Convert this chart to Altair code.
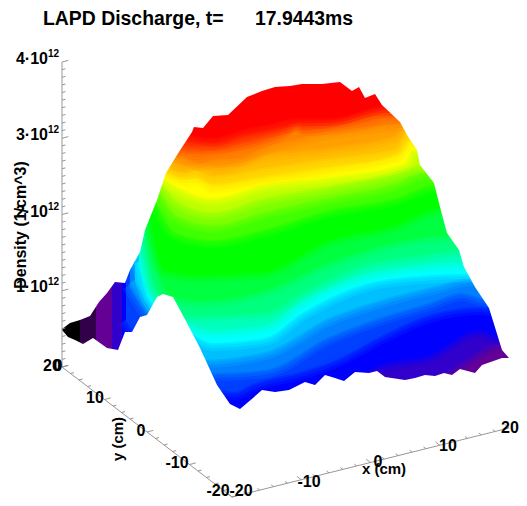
import altair as alt
import pandas as pd

# ---- silhouette of the surface (screen x, y)
top_x = [8, 61, 62, 70, 80, 90, 99, 107, 115, 125, 130, 140, 145, 157, 166, 177, 192, 194, 203, 213, 228, 247, 262, 275, 290, 302, 322, 340, 352, 359, 365, 375, 382, 400, 407, 417, 420, 434, 440, 447, 459, 464, 475, 489, 502, 509, 510, 519]
top_y = [520, 520, 329, 323, 320, 316, 302, 293, 282, 283, 270, 252, 230, 200, 173, 155, 132, 127, 128, 116, 115, 97, 91, 87, 86, 84, 84, 82, 91, 87, 98, 94, 105, 122, 135, 150, 165, 183, 207, 233, 250, 267, 287, 308, 350, 358, 520, 520]
bot_x = [62, 68, 75, 83, 93, 107, 118, 125, 132, 140, 147, 157, 163, 173, 187, 200, 217, 230, 240, 253, 262, 275, 289, 305, 315, 325, 335, 344, 355, 369, 377, 385, 405, 415, 425, 435, 444, 452, 460, 475, 482, 502, 509, 511]
bot_y = [330, 337, 340, 344, 338, 348, 350, 332, 332, 317, 315, 297, 294, 297, 323, 348, 385, 404, 409, 398, 390, 392, 390, 382, 385, 375, 378, 381, 372, 373, 371, 377, 380, 378, 375, 376, 373, 375, 369, 373, 365, 358, 358, 358]

# ---- iso-density curves on the surface (density in 1e12 /cm^3), screen x, y
d_black = 0.3
x_black = [62, 510]; y_black = [520, 520]
d_dark = 0.55
x_dark = [80, 510]; y_dark = [520, 520]
d_purple = 0.8
x_purple = [96, 510]; y_purple = [520, 520]
d_violet = 0.9
x_violet = [112, 395, 420, 445, 462, 490, 510]; y_violet = [520, 520, 382, 372, 362, 345, 340]
d_blue = 1.0
x_blue = [122, 235, 250, 265, 300, 340, 379, 429, 479, 495, 510]; y_blue = [520, 520, 405, 397, 394, 385, 365, 355, 330, 335, 338]
d_b2 = 1.1
x_b2 = [126, 200, 217, 235, 250, 265, 300, 340, 379, 429, 479, 510]; y_b2 = [320, 400, 390, 392, 385, 380, 372, 358, 337, 315, 307, 312]
d_azure = 1.2
x_azure = [130, 145, 180, 213, 265, 329, 379, 429, 462, 482, 510]; y_azure = [285, 310, 345, 373, 370, 337, 318, 303, 293, 298, 300]
d_a2 = 1.3
x_a2 = [135, 150, 200, 265, 329, 395, 440, 470, 510]; y_a2 = [280, 305, 360, 352, 318, 296, 285, 278, 278]
d_cyan = 1.4
x_cyan = [139, 150, 187, 213, 265, 302, 362, 420, 470, 510]; y_cyan = [262, 300, 330, 343, 338, 313, 285, 276, 274, 274]
d_c2 = 1.5
x_c2 = [142, 155, 187, 213, 265, 302, 362, 420, 465, 510]; y_c2 = [250, 290, 322, 330, 325, 300, 275, 265, 262, 262]
d_c3 = 1.6
x_c3 = [145, 155, 187, 265, 302, 362, 420, 460, 510]; y_c3 = [240, 290, 315, 312, 292, 265, 255, 250, 250]
d_c4 = 1.7
x_c4 = [148, 170, 200, 265, 329, 395, 450, 510]; y_c4 = [225, 295, 300, 290, 262, 242, 235, 235]
d_green = 1.8
x_green = [150, 165, 200, 262, 329, 395, 440, 510]; y_green = [215, 270, 275, 272, 240, 225, 208, 208]
d_g1 = 1.9
x_g1 = [155, 177, 213, 262, 329, 395, 435, 510]; y_g1 = [200, 233, 240, 230, 210, 198, 185, 185]
d_g2 = 2.0
x_g2 = [158, 177, 213, 262, 329, 395, 425, 510]; y_g2 = [188, 215, 225, 212, 197, 183, 172, 172]
d_g3 = 2.1
x_g3 = [160, 177, 213, 262, 329, 395, 420, 510]; y_g3 = [180, 200, 212, 198, 186, 172, 165, 165]
d_yellow = 2.2
x_yellow = [160, 178, 213, 262, 329, 405, 412, 510]; y_yellow = [175, 187, 198, 185, 177, 163, 150, 148]
d_y1 = 2.3
x_y1 = [162, 185, 198, 213, 262, 329, 395, 410, 510]; y_y1 = [168, 178, 178, 185, 178, 168, 155, 140, 140]
d_y2 = 2.4
x_y2 = [165, 182, 195, 213, 262, 329, 395, 407, 510]; y_y2 = [165, 172, 170, 176, 168, 158, 148, 132, 132]
d_y3 = 2.5
x_y3 = [170, 185, 200, 218, 262, 329, 395, 402, 510]; y_y3 = [158, 165, 160, 166, 155, 147, 135, 125, 125]
d_orange = 2.6
x_orange = [172, 180, 200, 213, 240, 265, 300, 312, 362, 399, 510]; y_orange = [155, 155, 163, 160, 158, 147, 138, 135, 127, 123, 123]
d_o1 = 2.7
x_o1 = [175, 200, 213, 240, 262, 285, 298, 304, 362, 392, 510]; y_o1 = [150, 152, 150, 145, 140, 130, 120, 128, 122, 116, 116]
d_o2 = 2.8
x_o2 = [178, 213, 240, 265, 285, 298, 304, 340, 385, 510]; y_o2 = [145, 146, 142, 135, 128, 118, 126, 120, 110, 110]
d_o3 = 2.9
x_o3 = [182, 213, 240, 265, 285, 299, 329, 378, 510]; y_o3 = [140, 142, 135, 130, 126, 122, 120, 108, 108]
d_red = 3.0
x_red = [185, 213, 240, 265, 299, 329, 375, 382, 510]; y_red = [133, 138, 130, 125, 118, 118, 107, 105, 105]

curves = [
    (d_black, x_black, y_black), (d_dark, x_dark, y_dark), (d_purple, x_purple, y_purple),
    (d_violet, x_violet, y_violet), (d_blue, x_blue, y_blue), (d_b2, x_b2, y_b2),
    (d_azure, x_azure, y_azure), (d_a2, x_a2, y_a2), (d_cyan, x_cyan, y_cyan),
    (d_c2, x_c2, y_c2), (d_c3, x_c3, y_c3), (d_c4, x_c4, y_c4), (d_green, x_green, y_green),
    (d_g1, x_g1, y_g1), (d_g2, x_g2, y_g2), (d_g3, x_g3, y_g3), (d_yellow, x_yellow, y_yellow),
    (d_y1, x_y1, y_y1), (d_y2, x_y2, y_y2), (d_y3, x_y3, y_y3), (d_orange, x_orange, y_orange),
    (d_o1, x_o1, y_o1), (d_o2, x_o2, y_o2), (d_o3, x_o3, y_o3), (d_red, x_red, y_red),
]

# colour table
color_domain = [0.3, 0.8, 1.0, 1.4, 1.8, 2.2, 3.0]
color_range = ["#000000", "#640096", "#0000ff", "#00ffff", "#00ff00", "#ffff00", "#ff0000"]

# soft edge of each band: stroke width, opacity
soft_strokes = [(16, 0.22), (10, 0.3), (4, 0.45)]

# axes: end points in the picture and tick values
z_end = ((62, 367), (62, 62))
y_end = ((62, 367), (232, 497))
x_end = ((232, 497), (509, 428))
axis_gray = "#8c8c8c"

title_a = "LAPD Discharge, t="
title_b = "17.9443ms"
z_labels = ["4·10", "3·10", "2·10", "1·10"]
z_label_y = [59, 135, 212, 287]
y_labels = ["20", "10", "0", "-10", "-20"]
y_label_x = [52, 95, 141, 177, 218]
y_label_y = [366, 398, 431, 463, 491]
x_labels = ["-20", "-10", "0", "10", "20"]
x_label_x = [241, 309, 378, 448, 510]
x_label_y = [491, 482, 462, 446, 428]

X = alt.X("x:Q", scale=alt.Scale(domain=[8, 519]), axis=None)
Y = alt.Y("y:Q", scale=alt.Scale(domain=[498, 8]), axis=None)
color_scale = alt.Scale(domain=color_domain, range=color_range, interpolate="rgb")

layers = []
for dens, xs, ys in curves:
    df = pd.DataFrame({"x": xs, "y": ys, "y0": [0] * len(xs), "density": [dens] * len(xs)})
    col = alt.Color("density:Q", scale=color_scale, legend=None)
    layers.append(
        alt.Chart(df).mark_area(clip=True, orient="vertical", interpolate="monotone").encode(
            x=X, y=Y, y2="y0:Q", color=col
        )
    )
    for w, op in soft_strokes:
        layers.append(
            alt.Chart(df).mark_line(clip=True, strokeWidth=w, opacity=op, interpolate="monotone").encode(
                x=X, y=Y, color=col
            )
        )

mask_top = pd.DataFrame({"x": top_x, "y": top_y, "y0": [0] * len(top_x)})
mask_bot = pd.DataFrame({"x": bot_x, "y": bot_y, "y0": [520] * len(bot_x)})
for m in (mask_top, mask_bot):
    layers.append(alt.Chart(m).mark_area(clip=True, orient="vertical", color="white").encode(x=X, y=Y, y2="y0:Q"))


def along(end, frac):
    (x0, y0), (x1, y1) = end
    return x0 + (x1 - x0) * frac, y0 + (y1 - y0) * frac


def axis_rows(end, n_minor, major_every, dx, dy):
    rows = []
    (a, b), (c, d) = end
    rows.append({"x": a, "y": b, "x2": c, "y2": d})
    for i in range(n_minor + 1):
        px, py = along(end, i / n_minor)
        k = 1.8 if i % major_every == 0 else 1.0
        rows.append({"x": px, "y": py, "x2": px + dx * k, "y2": py + dy * k})
    return rows


rows = axis_rows(z_end, 40, 10, 3.5, -0.9) + axis_rows(y_end, 20, 5, 3.5, -0.9) + axis_rows(x_end, 20, 5, -2.4, -1.9)
layers.append(
    alt.Chart(pd.DataFrame(rows)).mark_rule(color=axis_gray, strokeWidth=0.9).encode(x=X, y=Y, x2="x2:Q", y2="y2:Q")
)

FONT = "Liberation Sans"


def texts(labels, xs, ys, size, align="center", angle=None, color="black"):
    df = pd.DataFrame({"x": xs, "y": ys, "t": labels})
    kw = dict(font=FONT, fontWeight="bold", fontSize=size, align=align, baseline="middle", color=color)
    if angle is not None:
        kw["angle"] = angle
    return alt.Chart(df).mark_text(**kw).encode(x=X, y=Y, text="t:N")


layers += [
    texts([title_a], [43], [19], 19.4, "left"),
    texts([title_b], [255], [19], 19.4, "left"),
    texts(z_labels, [48] * 4, z_label_y, 16, "right"),
    texts(["12"] * 4, [48] * 4, [y - 5 for y in z_label_y], 10, "left"),
    texts(["0"], [58], [366], 16),
    texts(y_labels, y_label_x, y_label_y, 16),
    texts(x_labels, x_label_x, x_label_y, 16),
    texts(["y (cm)"], [118], [439], 15, angle=270),
    texts(["x (cm)"], [384], [469], 15),
    texts(["Density (1/cm^3)"], [21], [225], 16, angle=270),
]

chart = alt.layer(*layers).resolve_scale(color="shared").properties(
    width=511, height=490, padding=0, autosize=alt.AutoSizeParams(type="none"),
    background="white",
).configure_view(stroke=None)

chart.save("out.html", embed_options={"renderer": "svg", "actions": False})
